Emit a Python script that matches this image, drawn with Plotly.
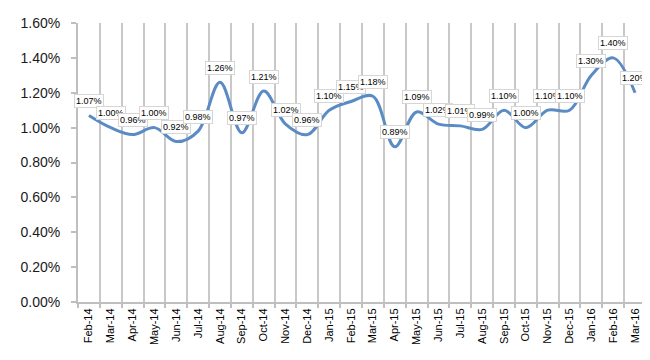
import plotly.graph_objects as go

months = ["Feb-14","Mar-14","Apr-14","May-14","Jun-14","Jul-14","Aug-14","Sep-14","Oct-14",
          "Nov-14","Dec-14","Jan-15","Feb-15","Mar-15","Apr-15","May-15","Jun-15","Jul-15",
          "Aug-15","Sep-15","Oct-15","Nov-15","Dec-15","Jan-16","Feb-16","Mar-16"]
rates = [1.07,1.00,0.96,1.00,0.92,0.98,1.26,0.97,1.21,1.02,0.96,1.10,1.15,1.18,0.89,1.09,
         1.02,1.01,0.99,1.10,1.00,1.10,1.10,1.30,1.40,1.20]
y_ticks = [0.0,0.2,0.4,0.6,0.8,1.0,1.2,1.4,1.6]

vals = [r/100 for r in rates]

fig = go.Figure()
fig.add_trace(go.Scatter(x=months, y=vals, mode="lines",
                         line=dict(color="#5A8BC4", width=3, shape="spline", smoothing=1.0),
                         hoverinfo="skip"))

lab_font = dict(family="Liberation Sans, Arial", size=9, color="#000000")
for m, v, r in zip(months, vals, rates):
    fig.add_annotation(x=m, y=v, text=f"{r:.2f}%", showarrow=False, yshift=14.5,
                       font=lab_font, bgcolor="white", bordercolor="#D6D6D6",
                       borderwidth=1, borderpad=1)

fig.update_layout(
    width=650, height=360,
    margin=dict(l=70, r=12, t=15, b=66, autoexpand=False),
    paper_bgcolor="white", plot_bgcolor="white",
    showlegend=False,
    xaxis=dict(type="category", tickson="boundaries", showgrid=True, gridcolor="#C8C8C8",
               gridwidth=2, showline=True, linecolor="#BFBFBF", linewidth=2,
               ticks="outside", ticklen=4, tickcolor="#BFBFBF", tickwidth=2, tickangle=-90,
               tickfont=dict(family="Liberation Sans, Arial", size=11, color="#000000"),
               range=[-0.5, len(months)-0.5], automargin=False),
    yaxis=dict(range=[0, 0.016], tickvals=[t/100 for t in y_ticks],
               ticktext=[f"{t:.2f}%" for t in y_ticks], showgrid=False,
               showline=True, linecolor="#BFBFBF", linewidth=2, ticks="outside",
               ticklen=5, tickwidth=2, tickcolor="#BFBFBF", zeroline=False,
               ticklabelstandoff=8, automargin=False,
               tickfont=dict(family="Liberation Sans, Arial", size=14, color="#1a1a1a")),
)

fig.write_html("out.html")
